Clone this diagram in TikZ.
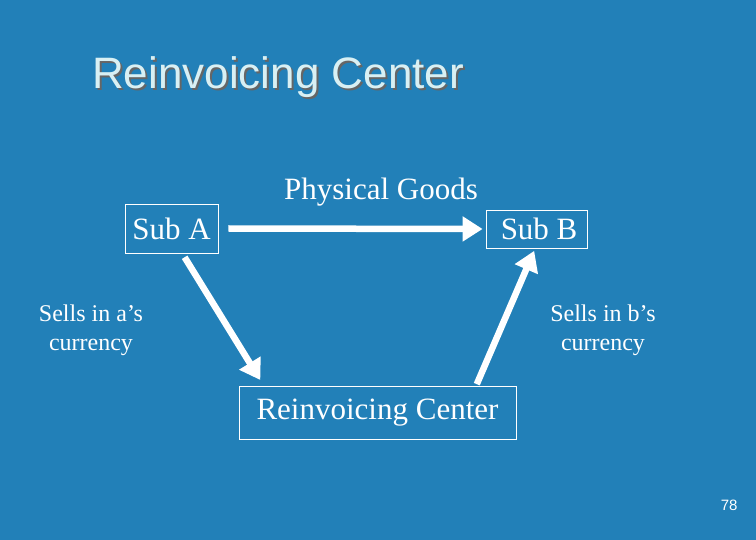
\documentclass[tikz,border=0pt]{standalone}
\usepackage{fontspec}
\setmainfont{Liberation Serif}
\newfontfamily\titlefont{Liberation Sans}
\usetikzlibrary{arrows.meta}
\definecolor{bg}{HTML}{2280B8}
\definecolor{ttl}{HTML}{D8F0F4}
\tikzset{
  box/.style={draw=white, line width=0.8pt, text=white, inner sep=2pt, font=\fontsize{31}{33}\selectfont},
  lbl/.style={text=white, font=\fontsize{24}{29}\selectfont, align=center},
  flow/.style={white, line width=6.5pt, -{Triangle[length=20pt,width=24pt]}}
}
\begin{document}
\begin{tikzpicture}[x=1pt,y=-1pt]
\fill[bg] (0,0) rectangle (756,540);
\useasboundingbox (0,0) rectangle (756,540);
\node[anchor=west, text=black!60, font=\titlefont\fontsize{44}{48}\selectfont, inner sep=0pt] at (94,79) {Reinvoicing Center};
\node[anchor=west, text=ttl, font=\titlefont\fontsize{44}{48}\selectfont, inner sep=0pt] (title) at (92,77) {Reinvoicing Center};
\node[box, minimum width=93pt, minimum height=49pt] (a) at (171.5,228.5) {\raisebox{-3pt}{Sub A}};
\node[box, minimum width=101pt, minimum height=38pt] (b) at (536.5,229) {\raisebox{-1pt}{\,Sub B}};
\node[box, minimum width=277pt, minimum height=53pt] (c) at (377.5,412.5) {\raisebox{-4pt}{Reinvoicing Center}};
\node[text=white, font=\fontsize{31}{33}\selectfont] (pg) at (381,192) {Physical Goods};
\node[lbl] (sa) at (91,330) {Sells in a’s\\currency};
\node[lbl] (sb) at (603,330) {Sells in b’s\\currency};
\node[anchor=east, text=white, font=\titlefont\fontsize{15}{17}\selectfont] (pn) at (741,505) {78};
\draw[flow] ([xshift=10pt]a.east) -- ([xshift=-3pt]b.west);
\draw[flow, shorten <=5pt, shorten >=7pt] (182,253) -- (264,386);
\draw[flow, shorten <=2pt, shorten >=2pt] (476,386) -- (535,249);
\end{tikzpicture}
\end{document}
